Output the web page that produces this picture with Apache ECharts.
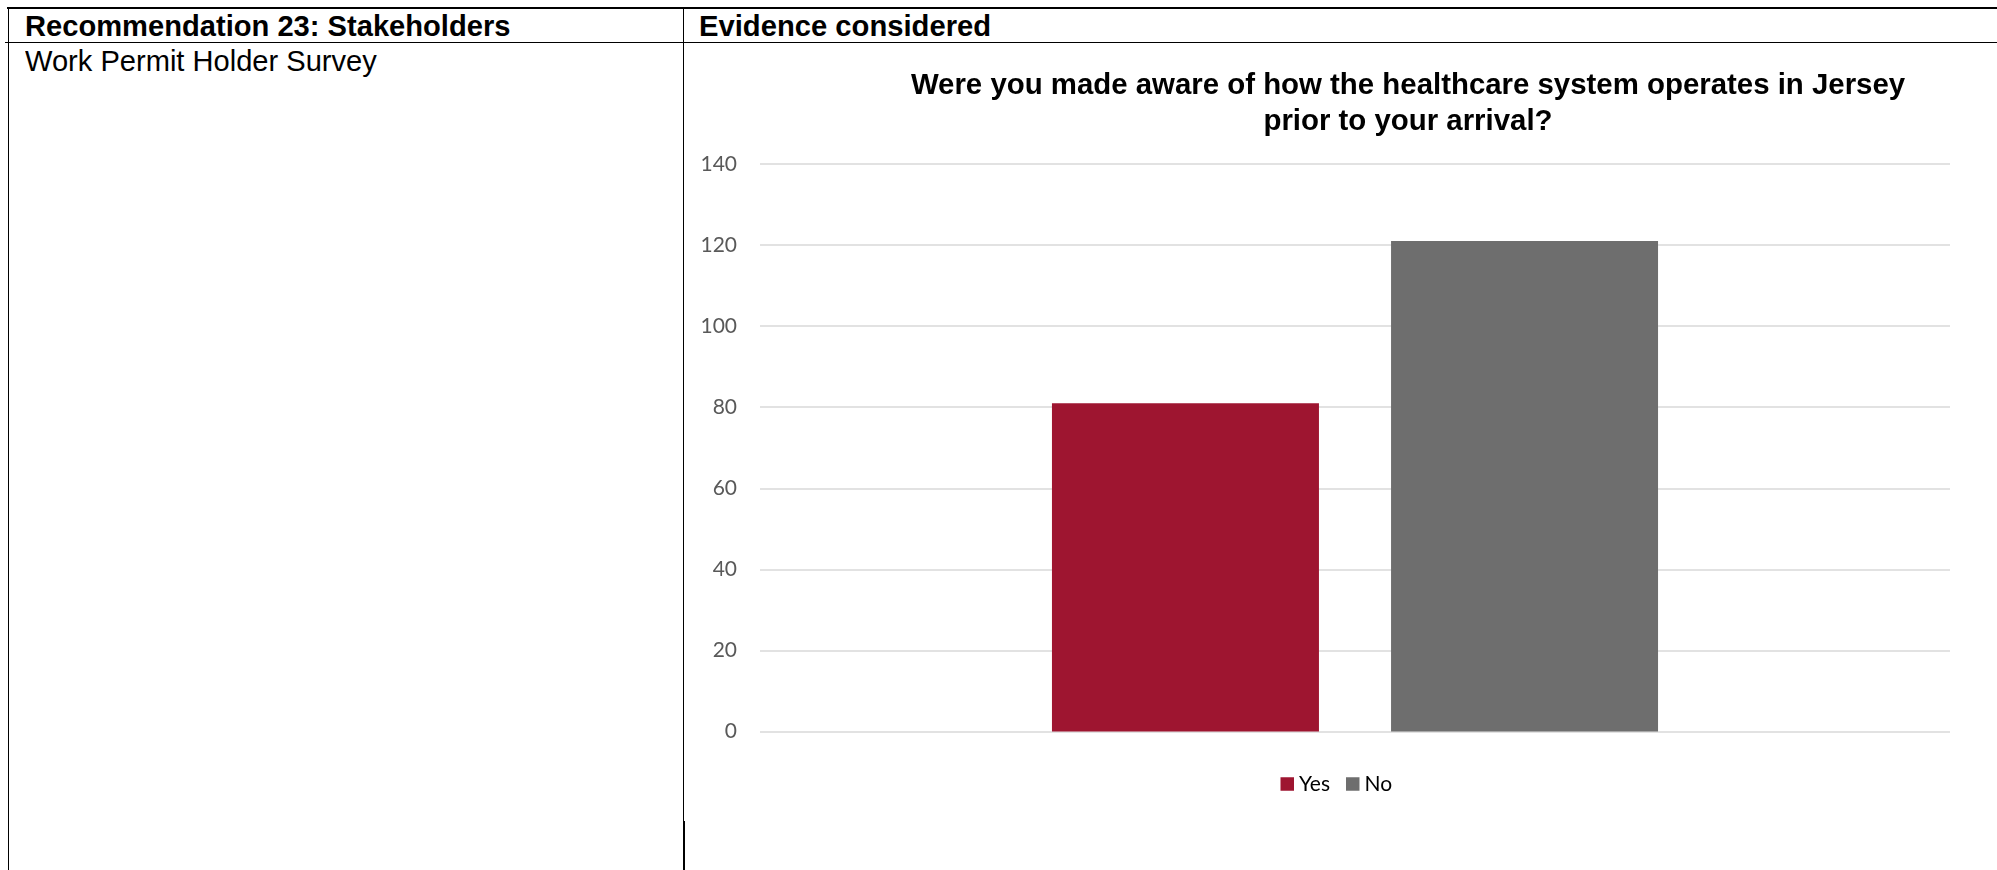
<!DOCTYPE html>
<html>
<head>
<meta charset="utf-8">
<script src="https://cdn.jsdelivr.net/npm/echarts@6/dist/echarts.min.js"></script>
<style>
  html, body { margin: 0; padding: 0; background: #fff; width: 1997px; height: 870px; overflow: hidden; }
  .line { position: absolute; background: #000; }
  .txt { position: absolute; font-family: "Liberation Sans", Arial, sans-serif; font-size: 29px; line-height: 29px; color: #000; white-space: nowrap; transform-origin: 0 0; }
  #chart { position: absolute; left: 0; top: 0; width: 1997px; height: 870px; }
</style>
</head>
<body>
<div class="line" style="left:7px; top:7px; width:1990px; height:2px;"></div>
<div class="line" style="left:5px; top:41.8px; width:1992px; height:1.6px;"></div>
<div class="line" style="left:7.5px; top:7px; width:1.8px; height:863px;"></div>
<div class="line" style="left:682.8px; top:7px; width:1.6px; height:814px;"></div>
<div class="line" style="left:682.8px; top:821px; width:2.4px; height:49px;"></div>

<div class="txt" id="h1" data-w="485" style="left:25px; top:11.5px; font-weight:bold;"></div>
<div class="txt" id="h2" data-w="292" style="left:699px; top:11.5px; font-weight:bold;"></div>
<div class="txt" id="c1" data-w="352" style="left:25px; top:47px;"></div>

<div id="chart"></div>
<script>
// ---- data ----
const headerLeft = "Recommendation 23: Stakeholders";
const headerRight = "Evidence considered";
const cellText = "Work Permit Holder Survey";
const chartTitle = "Were you made aware of how the healthcare system operates in Jersey\nprior to your arrival?";
const categories = ["Total"];
const seriesNames = ["Yes", "No"];
const yesValues = [81];
const noValues = [121];
const yTicks = { min: 0, max: 140, interval: 20 };

// ---- table text (fit to the widths seen in the reference) ----
[["h1", headerLeft], ["h2", headerRight], ["c1", cellText]].forEach(([id, t]) => {
  const el = document.getElementById(id);
  el.textContent = t;
  const target = parseFloat(el.dataset.w);
  el.style.transform = "scaleX(" + (target / el.offsetWidth) + ")";
});

// ---- chart ----
const chart = echarts.init(document.getElementById("chart"), null, { renderer: "canvas" });
chart.setOption({
  backgroundColor: "transparent",
  animation: false,
  title: {
    text: chartTitle,
    left: 1408,
    top: 68,
    padding: 0,
    textAlign: "center",
    textStyle: {
      fontFamily: "Liberation Sans, Arial, sans-serif",
      fontWeight: "bold",
      fontSize: 29.4,
      lineHeight: 36,
      color: "#000"
    }
  },
  legend: {
    data: seriesNames,
    left: 1280.5,
    top: 773.5,
    padding: 0,
    icon: "rect",
    itemWidth: 13.5,
    itemHeight: 13.5,
    itemGap: 16,
    textStyle: { fontFamily: "Lato, sans-serif", fontSize: 21, color: "#000" }
  },
  grid: { left: 760, right: 47, top: 164, bottom: 138.5, containLabel: false },
  xAxis: {
    type: "category",
    data: categories,
    axisLine: { show: false },
    axisTick: { show: false },
    axisLabel: { show: false },
    splitLine: { show: false }
  },
  yAxis: {
    type: "value",
    min: yTicks.min,
    max: yTicks.max,
    interval: yTicks.interval,
    axisLine: { show: false },
    axisTick: { show: false },
    axisLabel: { fontFamily: "Lato, sans-serif", fontSize: 21, color: "#595959", margin: 23 },
    splitLine: { lineStyle: { color: "#D9D9D9", width: 1.5 } }
  },
  series: [
    { name: seriesNames[0], type: "bar", data: yesValues, barWidth: 267, barGap: "27%", itemStyle: { color: "#9E1530" } },
    { name: seriesNames[1], type: "bar", data: noValues, barWidth: 267, barGap: "27%", itemStyle: { color: "#6E6E6E" } }
  ]
});
</script>
</body>
</html>
